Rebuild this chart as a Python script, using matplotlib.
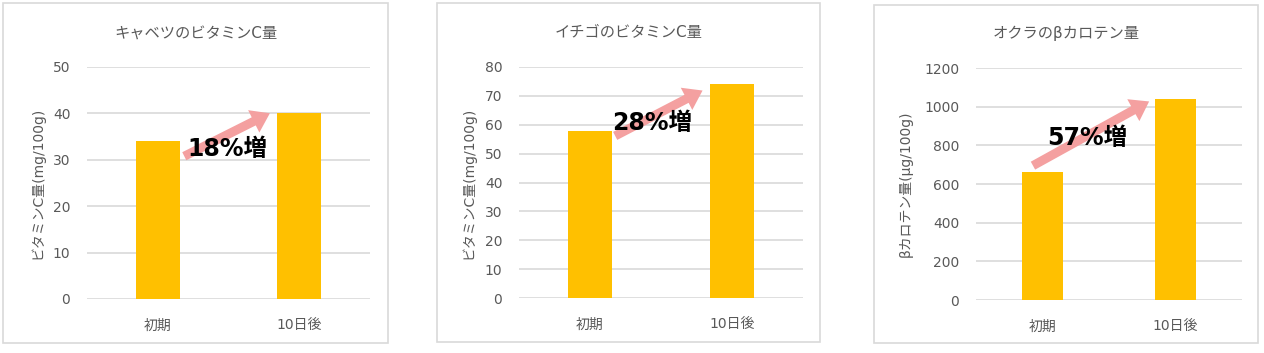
import matplotlib
matplotlib.use("Agg")
import matplotlib.pyplot as plt
from matplotlib.patches import Rectangle, FancyArrowPatch

plt.rcParams['font.family'] = ['DejaVu Sans', 'Noto Sans CJK JP']

categories = ['初期', '10日後']

titles = ['キャベツのビタミンC量', 'イチゴのビタミンC量', 'オクラのβカロテン量']
ylabels = ['ビタミンC量(mg/100g)', 'ビタミンC量(mg/100g)', 'βカロテン量(μg/100g)']
values = [[34, 40], [58, 74], [660, 1040]]
ymax = [50, 80, 1200]
ystep = [10, 10, 200]
increase_labels = ['18%増', '28%増', '57%増']

# arrow start/end and label position, in data coords
arrow_start = [(0.17, 30.5), (0.16, 55.7), (-0.09, 688)]
arrow_end = [(0.81, 40.3), (0.81, 72.3), (0.82, 1034)]
label_pos = [(0.49, 32.3), (0.44, 60.6), (0.34, 840)]

W, H = 1264, 353
fig = plt.figure(figsize=(W / 100, H / 100), dpi=100)

# pixel layout: (plot left, plot right, top, bottom), (frame left, right, top, bottom)
plot_px = [(87, 370, 67, 299), (519, 803, 67, 298), (976, 1242, 68, 300)]
frame_px = [(3, 388, 3, 343), (437, 820, 3, 342), (874, 1258, 5, 343)]
ylabel_x = [37, 468, 906]

grey = '#595959'
gridc = '#D9D9D9'
barc = '#FFC000'
arrowc = '#F4A0A0'

for i in range(3):
    fl, fr, ft, fb = frame_px[i]
    fig.patches.append(Rectangle((fl / W, 1 - fb / H), (fr - fl) / W, (fb - ft) / H,
                                 transform=fig.transFigure, fill=False,
                                 edgecolor=gridc, linewidth=1.2))
    l, r, t, b = plot_px[i]
    ax = fig.add_axes([l / W, 1 - b / H, (r - l) / W, (b - t) / H])
    ax.bar(range(len(categories)), values[i], width=0.31, color=barc, zorder=2)
    ax.set_xlim(-0.5, 1.5)
    ax.set_ylim(0, ymax[i])
    ax.set_yticks(range(0, ymax[i] + 1, ystep[i]))
    ax.set_xticks(range(len(categories)))
    ax.set_xticklabels(categories)
    ax.grid(axis='y', color=gridc, linewidth=1.2, zorder=0)
    ax.set_axisbelow(True)
    for s in ax.spines.values():
        s.set_visible(False)
    ax.tick_params(length=0, labelsize=10, colors=grey, pad=12)
    ax.tick_params(axis='x', pad=14)

    fig.text((fl + fr) / 2 / W, 1 - 33 / H, titles[i], ha='center', va='center',
             fontsize=11, color=grey)
    fig.text(ylabel_x[i] / W, 1 - ((t + b) / 2) / H, ylabels[i], rotation=90,
             ha='center', va='center', fontsize=10, color=grey)

    arr = FancyArrowPatch(arrow_start[i], arrow_end[i],
                          arrowstyle='simple,head_width=1.8,head_length=1.3,tail_width=0.65',
                          mutation_scale=10, color=arrowc, linewidth=0, zorder=3)
    ax.add_patch(arr)
    ax.text(label_pos[i][0], label_pos[i][1], increase_labels[i], ha='center',
            va='center', fontsize=17, fontweight='bold', color='black', zorder=4)

fig.savefig('out.png', dpi=100)
